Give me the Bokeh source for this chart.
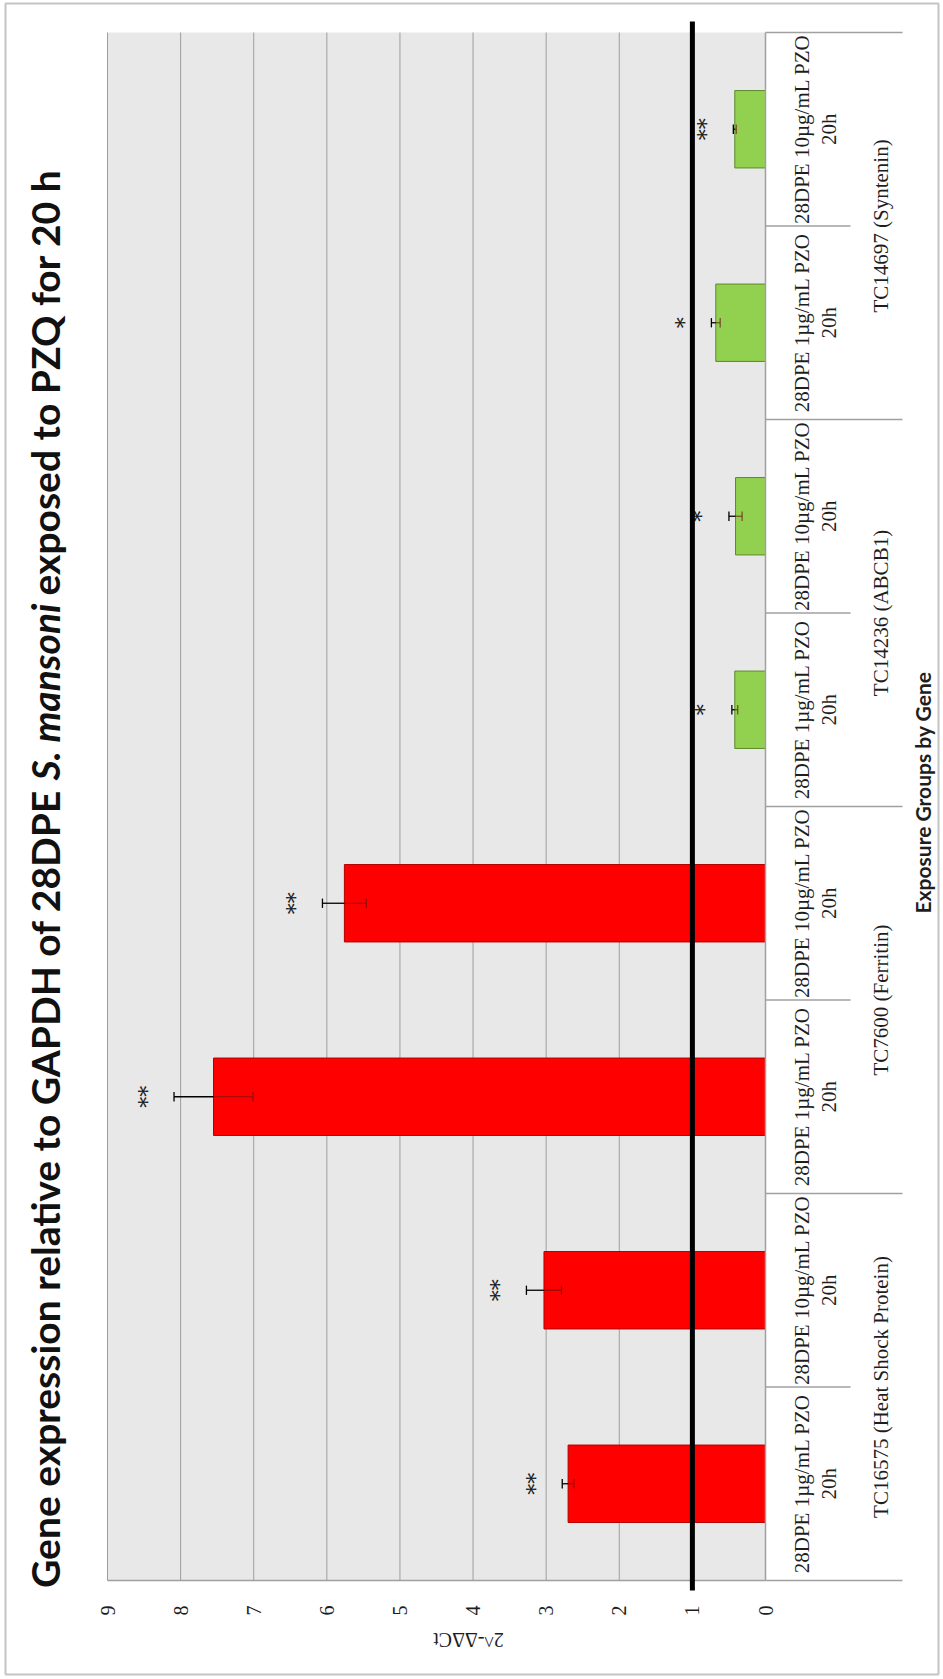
import math
from bokeh.plotting import figure
from bokeh.models import Range1d, Label, ColumnDataSource
from bokeh.core.properties import value
from bokeh.embed import file_html
from bokeh.resources import INLINE

# ---------------- data ----------------
genes = ["TC16575 (Heat Shock Protein)", "TC7600 (Ferritin)",
         "TC14236 (ABCB1)", "TC14697 (Syntenin)"]
doses = ["28DPE 1µg/mL PZO\n20h", "28DPE 10µg/mL PZO\n20h"]
values = [2.70, 3.03, 7.55, 5.76, 0.42, 0.41, 0.68, 0.42]
errors = [0.08, 0.24, 0.54, 0.30, 0.04, 0.09, 0.06, 0.02]
stars = ["**", "**", "**", "**", "*", "*", "*", "**"]
value_ticks = [0, 1, 2, 3, 4, 5, 6, 7, 8, 9]
reference_level = 1
title_parts = ["Gene expression relative to GAPDH of 28DPE ", "S. mansoni",
               " exposed to PZQ for 20 h"]
value_title = "2^-ΔΔCt"
category_title = "Exposure Groups by Gene"

# ---------------- layout / style ----------------
W, H = 943, 1679
# outer chart frame (drawn as the plot outline)
O_LEFT, O_RIGHT, O_TOP, O_BOTTOM = 5, 938, 3, 1674
# grey plotting area
G_LEFT, G_RIGHT, G_TOP, G_BOTTOM = 107, 765, 32, 1580
VMAX = value_ticks[-1]
n = len(values)
px_x = (G_RIGHT - G_LEFT) / VMAX      # pixels per value unit
px_y = (G_BOTTOM - G_TOP) / n         # pixels per category


def xd(px):   # screen x -> value coordinate
    return (G_RIGHT - px) / px_x


def yd(py):   # screen y -> category coordinate
    return n - (py - G_TOP) / px_y


SERIF = "Liberation Serif"
SANS = "Lato"
TXT = "#1e1e1e"
UP_COLOR, DOWN_COLOR = "#ff0000", "#92d050"
UP_EDGE, DOWN_EDGE = "#b00000", "#5e8a2a"
GRID = "#9e9e9e"
AXIS = "#a0a0a0"
BAR_H = 0.40
CAP = 0.024

ys = [i + 0.5 for i in range(n)]
labels = [doses[i % len(doses)] for i in range(n)]
src = ColumnDataSource(dict(
    y=ys,
    value=values,
    hi=[v + e for v, e in zip(values, errors)],
    lo=[v - e for v, e in zip(values, errors)],
    y0=[y - CAP for y in ys],
    y1=[y + CAP for y in ys],
    stars=stars,
    label=labels,
    color=[UP_COLOR if v > reference_level else DOWN_COLOR for v in values],
    edge=[UP_EDGE if v > reference_level else DOWN_EDGE for v in values],
))

p = figure(width=W, height=H,
           x_range=Range1d(xd(O_LEFT), xd(O_RIGHT)),
           y_range=Range1d(yd(O_BOTTOM), yd(O_TOP)),
           output_backend="svg", toolbar_location=None,
           min_border_left=O_LEFT, min_border_right=W - O_RIGHT,
           min_border_top=O_TOP, min_border_bottom=H - O_BOTTOM)
p.axis.visible = False
p.grid.visible = False
p.outline_line_color = "#c4c4c4"
p.outline_line_width = 2
p.background_fill_color = "white"
p.border_fill_color = "white"

# plot area background
p.quad(left=0, right=VMAX, bottom=0, top=n, fill_color="#e8e8e8", line_color=None)

# value grid lines
p.segment(x0=value_ticks[1:], x1=value_ticks[1:], y0=[0] * (len(value_ticks) - 1),
          y1=[n] * (len(value_ticks) - 1), line_color=GRID, line_width=1)

# value tick labels (rotated like the rest of the chart)
p.text(x=value_ticks, y=[yd(1610)] * len(value_ticks), text=[str(t) for t in value_ticks],
       angle=math.pi / 2, text_align="center", text_baseline="middle",
       text_font=value(SERIF), text_font_size="20px", text_color=TXT)

# bars
p.hbar(y="y", left=0, right="value", height=BAR_H, fill_color="color",
       line_color="edge", line_width=1, source=src)

# error bars
p.segment(x0="lo", x1="value", y0="y", y1="y", line_color="#6a1010",
          line_alpha=0.7, line_width=1.2, source=src)
p.segment(x0="lo", x1="lo", y0="y0", y1="y1", line_color="#6a1010",
          line_alpha=0.7, line_width=1.2, source=src)
p.segment(x0="value", x1="hi", y0="y", y1="y", line_color="black",
          line_width=1.3, source=src)
p.segment(x0="hi", x1="hi", y0="y0", y1="y1", line_color="black",
          line_width=1.3, source=src)

# significance stars
p.text(x="hi", y="y", text="stars", source=src, angle=math.pi / 2,
       x_offset=-27, text_align="center", text_baseline="middle",
       text_font=value("DejaVu Serif"), text_font_size="22px", text_color=TXT)

# category axis lines and separators
bounds = list(range(n + 1))
p.segment(x0=[0] * len(bounds), x1=[xd(902) if k % 2 == 0 else xd(850) for k in bounds],
          y0=bounds, y1=bounds, line_color=AXIS, line_width=1.5)
p.segment(x0=[VMAX], x1=[0], y0=[0], y1=[0], line_color=AXIS, line_width=1.5)
p.segment(x0=[0], x1=[0], y0=[0], y1=[n], line_color=AXIS, line_width=1.5)

# reference line at 1 (slightly overhanging the plot area)
p.segment(x0=[reference_level], x1=[reference_level], y0=[yd(1590)], y1=[yd(21)],
          line_color="black", line_width=5)

# category labels
p.text(x=xd(815), y="y", text="label", source=src, angle=math.pi / 2,
       text_align="center", text_baseline="middle",
       text_font=value(SERIF), text_font_size="21px", text_color=TXT,
       text_line_height=1.15)
gene_y = [2 * i + 1 for i in range(len(genes))]
p.text(x=xd(880), y=gene_y, text=genes, angle=math.pi / 2,
       text_align="center", text_baseline="middle",
       text_font=value(SERIF), text_font_size="21px", text_color=TXT)

p.add_layout(Label(x=xd(922), y=yd(792), text=category_title, angle=math.pi / 2,
                   text_align="center", text_baseline="middle",
                   text_font=SANS, text_font_style="bold", text_font_size="21px",
                   text_color=TXT))

p.add_layout(Label(x=xd(468), y=yd(1639), text=value_title, angle=math.pi,
                   text_align="center", text_baseline="middle",
                   text_font=SERIF, text_font_size="20px", text_color=TXT))

# title (three parts, the middle one italic)
TX = xd(44)
JA, JB = yd(780), yd(595)
TSIZE = "39px"
p.add_layout(Label(x=TX, y=JA, text=title_parts[0], angle=math.pi / 2,
                   text_align="right", text_baseline="middle", text_font=SANS,
                   text_font_style="bold", text_font_size=TSIZE, text_color="#111111"))
p.add_layout(Label(x=TX, y=JA, text=title_parts[1], angle=math.pi / 2,
                   text_align="left", text_baseline="middle", text_font=SANS,
                   text_font_style="bold italic", text_font_size=TSIZE, text_color="#111111"))
p.add_layout(Label(x=TX, y=JB, text=title_parts[2], angle=math.pi / 2,
                   text_align="left", text_baseline="middle", text_font=SANS,
                   text_font_style="bold", text_font_size=TSIZE, text_color="#111111"))

open("out.html", "w").write(file_html(p, INLINE))
